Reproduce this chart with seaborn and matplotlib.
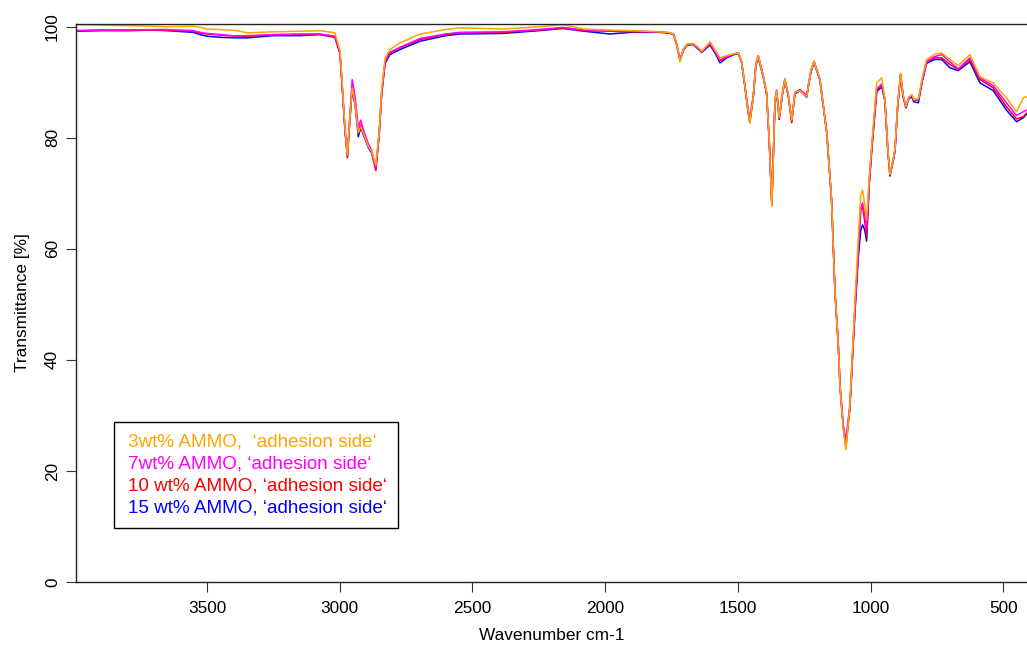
import matplotlib
matplotlib.use("Agg")
import matplotlib.pyplot as plt
import pandas as pd
import seaborn as sns

wavenumber = [3994, 3900, 3800, 3700, 3650, 3553, 3526, 3500, 3450, 3387, 3349, 3250, 3150, 3074, 3018,
              2999, 2988, 2980, 2971, 2962, 2953, 2942, 2930, 2921, 2911, 2892, 2880, 2864, 2851, 2842,
              2829, 2811, 2773, 2697, 2600, 2547, 2385, 2250, 2159, 2080, 1982, 1900, 1800, 1760, 1743,
              1730, 1718, 1705, 1690, 1668, 1650, 1636, 1605, 1585, 1567, 1542, 1520, 1498, 1486, 1473,
              1462, 1455, 1442, 1432, 1423, 1404, 1392, 1382, 1372, 1360, 1354, 1344, 1333, 1323, 1310,
              1297, 1285, 1266, 1241, 1225, 1213, 1191, 1165, 1147, 1134, 1122, 1115, 1103, 1093, 1078,
              1067, 1059, 1046, 1037, 1030, 1022, 1015, 1005, 996, 977, 958, 946, 935, 927, 915,
              908, 898, 887, 878, 867, 856, 845, 837, 820, 805, 789, 760, 732, 701, 670,
              626, 588, 538, 488, 450, 425, 411]

t_3wt = [100.4, 100.3, 100.2, 100.1, 100.0, 100.1, 99.9, 99.6, 99.5, 99.3, 98.9, 99.1, 99.2, 99.3, 98.9,
         95.8, 87.8, 81.8, 76.9, 83.5, 89.0, 86.2, 80.9, 82.0, 80.9, 78.4, 77.6, 75.1, 81.3, 88.6,
         94.4, 95.9, 97.1, 98.7, 99.5, 99.8, 99.6, 100.0, 100.4, 99.6, 99.4, 99.3, 99.1, 99.0, 98.7,
         96.8, 93.7, 95.9, 96.9, 97.0, 96.3, 95.6, 97.3, 95.8, 94.4, 94.8, 95.1, 95.3, 93.7, 89.2,
         85.0, 82.6, 87.4, 93.2, 94.7, 91.0, 88.2, 79.6, 67.6, 86.8, 88.4, 83.6, 87.7, 90.5, 87.8,
         83.2, 88.2, 88.5, 87.4, 92.0, 93.8, 90.5, 80.9, 68.8, 52.1, 43.1, 35.0, 27.6, 23.8, 31.8,
         42.5, 50.5, 62.5, 69.7, 70.6, 67.9, 65.2, 73.0, 78.5, 89.9, 90.8, 86.9, 77.9, 73.4, 76.1,
         78.0, 86.0, 91.6, 88.0, 85.7, 87.3, 87.8, 86.9, 87.0, 90.8, 94.1, 95.0, 95.3, 94.1, 93.0,
         95.0, 91.0, 89.9, 87.2, 84.7, 87.2, 87.4]

t_7wt = [99.3, 99.4, 99.4, 99.5, 99.5, 99.3, 99.0, 98.8, 98.6, 98.3, 98.4, 98.6, 98.7, 98.7, 98.3,
         95.3, 87.4, 81.4, 77.0, 83.9, 90.5, 87.5, 81.8, 83.2, 81.5, 78.9, 77.8, 74.6, 81.0, 88.2,
         93.8, 95.4, 96.3, 97.9, 98.7, 99.0, 99.1, 99.5, 99.9, 99.4, 99.3, 99.2, 99.1, 98.9, 98.7,
         96.9, 94.0, 96.0, 96.9, 96.9, 96.2, 95.5, 97.0, 95.5, 94.0, 94.6, 95.0, 95.3, 93.7, 89.3,
         85.3, 83.6, 87.6, 93.4, 94.8, 91.2, 88.3, 79.8, 68.0, 86.9, 88.6, 83.8, 87.8, 90.6, 87.8,
         83.2, 88.2, 88.7, 87.7, 92.1, 93.8, 90.6, 81.0, 68.9, 52.3, 43.4, 35.4, 28.3, 25.6, 31.9,
         42.0, 49.3, 60.2, 67.4, 68.3, 66.1, 63.4, 72.2, 77.9, 88.8, 89.7, 86.9, 77.9, 73.4, 76.0,
         77.9, 85.8, 91.5, 87.8, 85.6, 87.2, 87.7, 86.9, 86.9, 90.6, 93.8, 94.6, 95.0, 93.7, 92.4,
         94.4, 90.8, 89.4, 86.3, 84.0, 84.7, 85.0]

t_10wt = [99.3, 99.4, 99.4, 99.4, 99.4, 99.2, 98.9, 98.7, 98.5, 98.3, 98.3, 98.5, 98.6, 98.6, 98.2,
          95.3, 87.4, 81.4, 76.4, 83.2, 89.2, 86.3, 81.1, 82.3, 80.9, 78.4, 77.5, 74.1, 80.9, 88.1,
          93.7, 95.3, 96.2, 97.7, 98.6, 98.9, 99.0, 99.4, 99.8, 99.3, 99.2, 99.1, 99.1, 98.9, 98.7,
          96.8, 93.9, 95.9, 96.8, 96.9, 96.2, 95.5, 96.9, 95.5, 93.9, 94.6, 95.0, 95.3, 93.7, 89.2,
          85.0, 82.7, 87.4, 93.2, 94.6, 91.0, 88.1, 79.6, 67.9, 86.8, 88.3, 83.6, 87.7, 90.5, 87.7,
          82.7, 88.1, 88.6, 87.4, 91.9, 93.7, 90.5, 80.9, 68.8, 52.1, 43.1, 35.1, 27.9, 24.1, 31.5,
          41.8, 49.0, 59.8, 67.0, 67.6, 64.9, 62.2, 72.0, 77.8, 88.6, 89.5, 86.8, 77.8, 73.3, 76.0,
          77.8, 85.7, 91.4, 87.7, 85.6, 87.2, 87.7, 86.8, 86.8, 90.5, 93.7, 94.4, 94.4, 93.2, 92.3,
          94.1, 90.5, 89.0, 85.6, 83.4, 83.8, 84.5]

t_15wt = [99.2, 99.3, 99.3, 99.4, 99.3, 99.0, 98.6, 98.3, 98.1, 98.0, 98.0, 98.4, 98.4, 98.6, 98.1,
          95.2, 87.3, 81.2, 76.6, 83.0, 88.6, 85.9, 80.2, 81.8, 80.6, 78.2, 77.3, 74.4, 80.7, 87.8,
          93.4, 95.0, 95.9, 97.4, 98.4, 98.7, 98.8, 99.3, 99.7, 99.2, 98.7, 99.0, 99.0, 98.9, 98.6,
          96.7, 93.9, 95.8, 96.7, 96.8, 96.0, 95.4, 96.7, 95.2, 93.5, 94.4, 94.9, 95.2, 93.6, 89.0,
          84.8, 82.9, 87.2, 93.0, 94.5, 90.8, 88.0, 79.5, 67.9, 86.6, 88.2, 83.3, 87.5, 90.3, 87.5,
          83.0, 87.9, 88.5, 87.3, 91.8, 93.6, 90.4, 80.8, 68.7, 52.0, 43.0, 35.1, 28.0, 25.0, 31.2,
          41.4, 48.4, 58.6, 63.4, 64.3, 63.4, 61.4, 71.6, 77.5, 88.3, 89.2, 86.6, 77.6, 73.1, 75.8,
          77.6, 85.5, 91.3, 87.5, 85.4, 87.0, 87.4, 86.5, 86.3, 90.2, 93.4, 94.1, 94.1, 92.6, 92.1,
          93.7, 89.9, 88.5, 85.0, 82.9, 83.6, 84.3]

series_labels = ["3wt% AMMO,  \u2018adhesion side\u2018",
                 "7wt% AMMO, \u2018adhesion side\u2018",
                 "10 wt% AMMO, \u2018adhesion side\u2018",
                 "15 wt% AMMO, \u2018adhesion side\u2018"]
series_colors = ["#FFA500", "#FF00FF", "#FF0000", "#0000FF"]
x_ticks = [3500, 3000, 2500, 2000, 1500, 1000, 500]
y_ticks = [0, 20, 40, 60, 80, 100]

sns.set_theme(style="white")
plt.rcParams['font.family'] = ['Liberation Sans', 'DejaVu Sans']

frames = []
for vals, lab in zip([t_3wt, t_7wt, t_10wt, t_15wt], series_labels):
    frames.append(pd.DataFrame({"wn": wavenumber, "T": vals, "series": lab}))
df = pd.concat(frames, ignore_index=True)

W, H = 1027, 646
fig = plt.figure(figsize=(W / 100, H / 100), dpi=100)
ax = fig.add_axes([76 / W, 64 / H, (W - 76) / W, 558 / H])

sns.lineplot(data=df, x="wn", y="T", hue="series", hue_order=series_labels,
             palette=dict(zip(series_labels, series_colors)), sort=False,
             estimator=None, linewidth=1.1, ax=ax, legend=True)

# orange drawn on top, blue at the bottom
data_lines = ax.get_lines()[:4]
for i, ln in enumerate(data_lines):
    ln.set_zorder(6 - i)

ax.set_xlim(3993.5, 410.7)
ax.set_ylim(0, 100.5)
ax.set_xticks(x_ticks)
ax.set_yticks(y_ticks)
ax.set_xticklabels([str(v) for v in x_ticks])
ax.set_yticklabels([str(v) for v in y_ticks])

for side in ["left", "bottom", "top"]:
    ax.spines[side].set_visible(True)
    ax.spines[side].set_color("#222222")
    ax.spines[side].set_linewidth(1.0)
    ax.spines[side].set_zorder(10)
ax.spines["right"].set_visible(False)

ax.tick_params(axis="both", direction="out", length=7, width=0.8, color="#333333",
               labelsize=12.4, labelcolor="black")
ax.tick_params(axis="x", pad=7, bottom=True)
ax.tick_params(axis="y", pad=4.5, left=True)
plt.setp(ax.get_yticklabels(), rotation=90, va="center")

ax.set_xlabel("Wavenumber cm-1", fontsize=12.4, color="black")
ax.set_ylabel("Transmittance [%]", fontsize=12.4, color="black")
ax.xaxis.set_label_coords(0.5, -(628 - 582) / 558)
ax.yaxis.set_label_coords(-(76 - 30) / 951, 0.5)

handles, labels = ax.get_legend_handles_labels()
leg = ax.legend(handles, labels, loc="upper left",
                bbox_to_anchor=(114 / W, 1 - 422 / H), bbox_transform=fig.transFigure,
                borderaxespad=0, handlelength=0, handletextpad=0.15, labelcolor=series_colors,
                fontsize=13.6, frameon=True, fancybox=False, framealpha=1,
                edgecolor="black", borderpad=0.6, labelspacing=0.26)
leg.get_frame().set_linewidth(1.0)
leg.set_zorder(20)
for h in leg.legend_handles:
    h.set_visible(False)

fig.savefig("out.png", dpi=100)
